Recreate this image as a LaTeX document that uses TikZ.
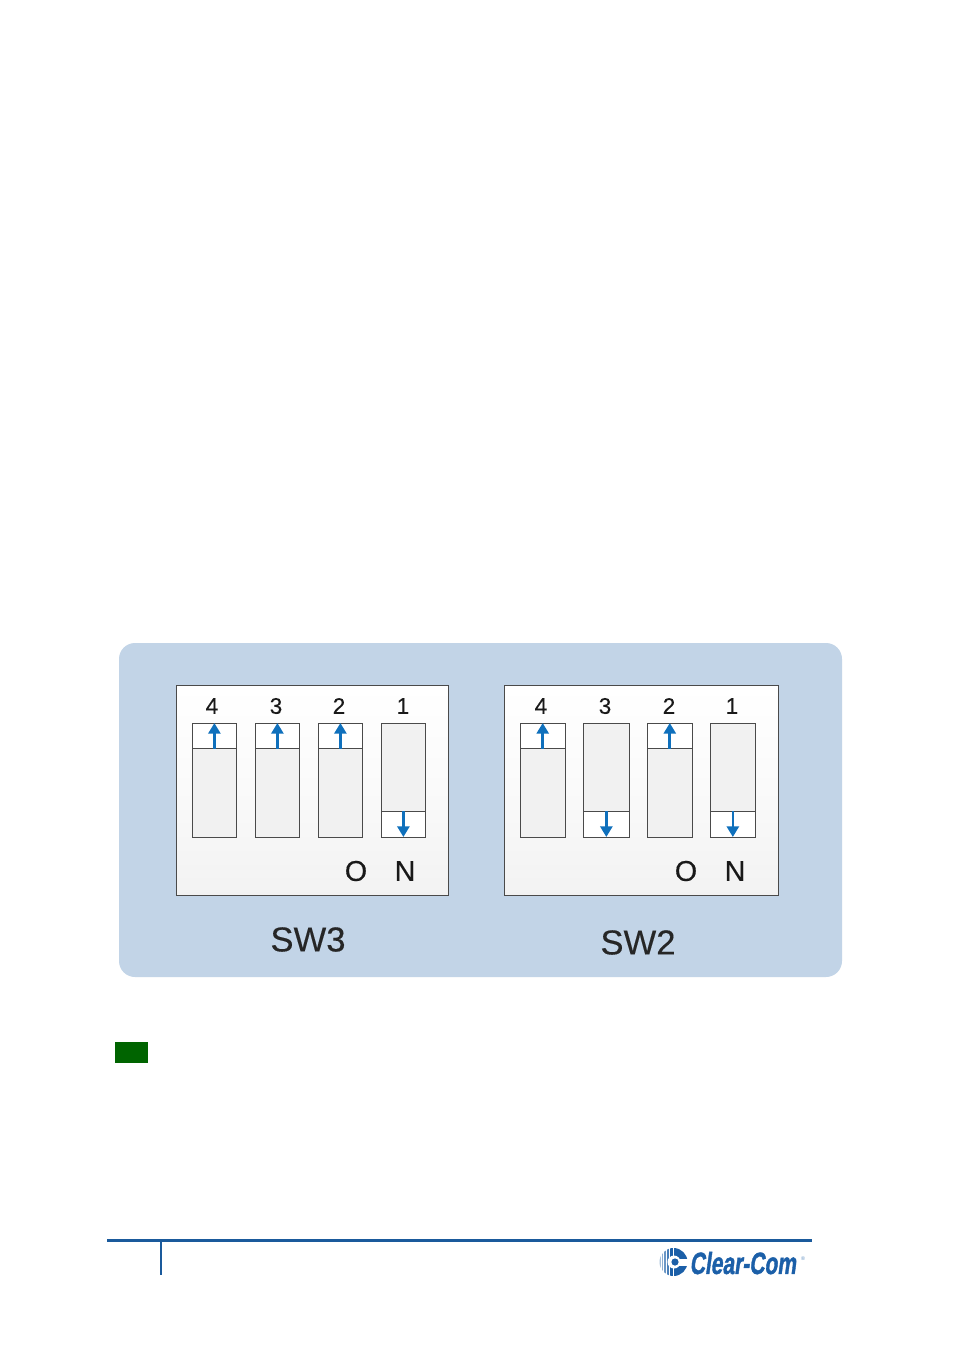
\documentclass[tikz,border=0pt]{standalone}
\usepackage{fontspec}
\setmainfont{Liberation Sans}
\newfontfamily\logofont[FakeBold=1.6]{Liberation Sans Bold}
\newfontfamily\heavyfont[FakeBold=0.25]{Liberation Sans}
\usetikzlibrary{arrows.meta}
\definecolor{panelblue}{HTML}{C2D4E7}
\definecolor{slotgrey}{HTML}{F1F1F1}
\definecolor{edgegrey}{HTML}{4A4A4A}
\definecolor{arrowblue}{HTML}{0F70BC}
\definecolor{rulenavy}{HTML}{1A5A9C}
\definecolor{notegreen}{HTML}{006400}
\definecolor{logoblue}{HTML}{1B5FA8}
\tikzset{
  x=0.75pt, y=-0.75pt,
  panel/.style={fill=panelblue, draw=none, rounded corners=12pt},
  dipbox/.style={draw=edgegrey, line width=0.65pt, top color=white, bottom color=black!5, middle color=white!98!black, inner sep=0pt},
  slot/.style={draw=edgegrey, line width=0.65pt, fill=slotgrey},
  lever/.style={draw=edgegrey, line width=0.65pt, fill=white},
  flow/.style={draw=arrowblue, line width=2pt, -{Triangle[length=8pt,width=9pt]}},
  digit/.style={font=\heavyfont\fontsize{17}{18}\selectfont, text=black!90, inner sep=0pt},
  onlabel/.style={font=\heavyfont\fontsize{21.5}{24}\selectfont, text=black!90, inner sep=0pt},
  swname/.style={font=\heavyfont\fontsize{26}{30}\selectfont, text=black!85, inner sep=0pt},
}
% One DIP position: #1 left edge, #2 right edge, #3 label, #4 label x, #5 up or down
\newcommand{\dipswitch}[5]{%
  \node[digit] at (#4,706) {#3};
  \draw[slot] (#1,723) rectangle (#2,837);
  \ifnum#5=1
    \draw[lever] (#1,723) rectangle (#2,748.5);
    \coordinate (tail) at ({(#1+#2)/2},748.5);
    \coordinate (head) at ({(#1+#2)/2},723);
  \else
    \draw[lever] (#1,811) rectangle (#2,837);
    \coordinate (tail) at ({(#1+#2)/2},811);
    \coordinate (head) at ({(#1+#2)/2},837);
  \fi
  \draw[flow] (tail) -- (head);
}
\begin{document}
\begin{tikzpicture}
\useasboundingbox (0,0) rectangle (955,1350);
\fill[white] (0,0) rectangle (955,1350);

% Backing panel
\fill[panel] (119,643) rectangle (842,977);

% SW3 block
\filldraw[dipbox] (176,685) rectangle (448,895);
\dipswitch{192}{236.8}{4}{212}{1}
\dipswitch{255}{299.8}{3}{276}{1}
\dipswitch{318}{362.8}{2}{339}{1}
\dipswitch{381}{425.8}{1}{403}{0}
\node[onlabel] (swaO) at (356,871) {O};
\node[onlabel] (swaN) at (405,871) {N};
\node[swname] (swaName) at (308,939.5) {SW3};

% SW2 block
\filldraw[dipbox] (504.4,685) rectangle (778,895);
\dipswitch{520.4}{565}{4}{541}{1}
\dipswitch{583.5}{629.2}{3}{605}{0}
\dipswitch{647.4}{692.2}{2}{669}{1}
\dipswitch{710.5}{755.2}{1}{732}{0}
\node[onlabel] (swbO) at (686,871) {O};
\node[onlabel] (swbN) at (735,871) {N};
\node[swname] (swbName) at (638,942.5) {SW2};

% Green note marker
\fill[notegreen] (115,1042) rectangle (148,1063);

% Page footer rules
\fill[rulenavy] (107,1239) rectangle (812,1242);
\fill[rulenavy] (160,1242) rectangle (162,1275);

% Logo: striped globe with a C-shaped cut
\begin{scope}
  \clip (673.5,1262) circle[radius=14];
  \foreach \xx/\ww/\cc in {659/1.5/40, 661.5/1.6/50, 664/2/65, 667/2.4/80, 670/3/100, 674/18/100}
    \fill[logoblue!\cc] (\xx,1245) rectangle ++(\ww,34);
\end{scope}
\fill[white] (674,1262) circle[radius=6.5];
\fill[white] (674,1258.5) rectangle (690,1265.5);
\fill[logoblue] (675,1262) circle[radius=3.6];
\node[inner sep=0pt, text=logoblue, anchor=west, font=\logofont\fontsize{23}{24}\selectfont,
      xscale=0.685, xslant=0.2] (logotext) at (691,1263) {Clear-Com};
\node[inner sep=0pt, text=logoblue!70, font=\fontsize{4}{4}\selectfont] (logomark) at (803,1259) {®};
\end{tikzpicture}
\end{document}
